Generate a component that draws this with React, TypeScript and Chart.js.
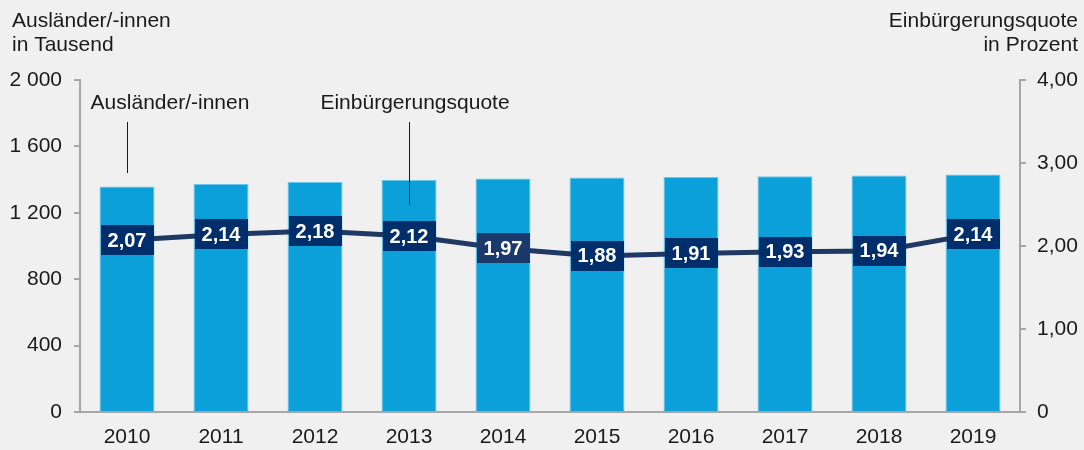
import React, { useEffect, useRef } from "react";
import { Chart, registerables } from "chart.js";

Chart.register(...registerables);

const years = ["2010", "2011", "2012", "2013", "2014", "2015", "2016", "2017", "2018", "2019"];
const auslaender = [1358, 1373, 1386, 1398, 1406, 1412, 1416, 1420, 1424, 1430];
const quote = [2.07, 2.14, 2.18, 2.12, 1.97, 1.88, 1.91, 1.93, 1.94, 2.14];

const FONT = "'Liberation Sans', Arial, sans-serif";
const AXIS = "#a6a6a6";
const TXT = "#1a1a1a";

const fmtThousands = (v: number) => {
  const s = String(Math.round(v));
  return s.replace(/\B(?=(\d{3})+(?!\d))/g, " ");
};
const fmtPct = (v: number) => (v === 0 ? "0" : v.toFixed(2).replace(".", ","));

const overlay = {
  id: "overlay",
  afterDatasetsDraw(chart: any) {
    const ctx = chart.ctx;
    const meta = chart.getDatasetMeta(1);
    ctx.save();
    // value boxes
    meta.data.forEach((pt: any, i: number) => {
      const w = 53, h = 30;
      ctx.fillStyle = i === 4 ? "#1b3a6b" : "#002e6b";
      ctx.fillRect(Math.round(pt.x - w / 2), Math.round(pt.y - h / 2), w, h);
      ctx.fillStyle = "#ffffff";
      ctx.font = `bold 20px ${FONT}`;
      ctx.textAlign = "center";
      ctx.textBaseline = "middle";
      ctx.fillText(fmtPct(quote[i]), pt.x, pt.y + 1);
    });
    // axis titles
    ctx.fillStyle = TXT;
    ctx.font = `21px ${FONT}`;
    ctx.textBaseline = "middle";
    ctx.textAlign = "left";
    ctx.fillText("Ausländer/-innen", 12, 21);
    ctx.fillText("in Tausend", 12, 45);
    ctx.textAlign = "right";
    ctx.fillText("Einbürgerungsquote", 1078, 21);
    ctx.fillText("in Prozent", 1078, 45);
    // annotations
    const xs = chart.scales.x;
    const x0 = xs.getPixelForValue(0);
    const x3 = xs.getPixelForValue(3);
    ctx.textAlign = "center";
    ctx.fillText("Ausländer/-innen", x0 + 43, 103);
    ctx.fillText("Einbürgerungsquote", x3 + 6, 103);
    ctx.strokeStyle = TXT;
    ctx.lineWidth = 1;
    ctx.beginPath();
    ctx.moveTo(Math.round(x0) + 0.5, 122);
    ctx.lineTo(Math.round(x0) + 0.5, 173);
    ctx.moveTo(Math.round(x3) + 0.5, 122);
    ctx.lineTo(Math.round(x3) + 0.5, 205);
    ctx.stroke();
    ctx.restore();
  },
};

export default function App() {
  const ref = useRef<HTMLCanvasElement>(null);
  useEffect(() => {
    document.body.style.margin = "0";
    document.body.style.background = "#f0f0f0";
    const chart = new Chart(ref.current!, {
      type: "bar",
      data: {
        labels: years,
        datasets: [
          {
            type: "bar",
            label: "Ausländer/-innen",
            data: auslaender,
            backgroundColor: "#0ba0da",
            borderColor: "#6cc6ec",
            borderWidth: 1,
            yAxisID: "y",
            categoryPercentage: 1,
            barPercentage: 0.585,
            order: 2,
          } as any,
          {
            type: "line",
            label: "Einbürgerungsquote",
            data: quote,
            borderColor: "#1f3864",
            borderWidth: 5,
            pointRadius: 0,
            yAxisID: "y1",
            order: 1,
          } as any,
        ],
      },
      options: {
        animation: false,
        responsive: false,
        maintainAspectRatio: false,
        layout: { padding: { top: 80, left: 0, right: 0, bottom: 0 } },
        plugins: { legend: { display: false }, tooltip: { enabled: false } },
        scales: {
          x: {
            grid: { display: false, drawTicks: false },
            border: { display: true, color: AXIS, width: 2 },
            ticks: { color: TXT, font: { family: FONT, size: 21 }, padding: 13, maxRotation: 0 },
            afterFit: (s: any) => { s.height = 38; },
          },
          y: {
            position: "left",
            min: 0,
            max: 2000,
            ticks: { stepSize: 400, color: TXT, font: { family: FONT, size: 21 }, padding: 12, callback: (v: any) => fmtThousands(v) },
            grid: { drawOnChartArea: false, drawTicks: true, tickLength: 6, color: AXIS, lineWidth: 2 },
            border: { display: true, color: AXIS, width: 2 },
            afterFit: (s: any) => { s.width = 80; },
          },
          y1: {
            position: "right",
            min: 0,
            max: 4,
            ticks: { stepSize: 1, color: TXT, font: { family: FONT, size: 21 }, padding: 11, callback: (v: any) => fmtPct(Number(v)) },
            grid: { drawOnChartArea: false, drawTicks: true, tickLength: 6, color: AXIS, lineWidth: 2 },
            border: { display: true, color: AXIS, width: 2 },
            afterFit: (s: any) => { s.width = 64; },
          },
        },
      } as any,
      plugins: [overlay],
    });
    return () => chart.destroy();
  }, []);
  return (
    <div style={{ width: 1084, height: 450, background: "#f0f0f0" }}>
      <canvas ref={ref} width={1084} height={450} style={{ display: "block" }} />
    </div>
  );
}
